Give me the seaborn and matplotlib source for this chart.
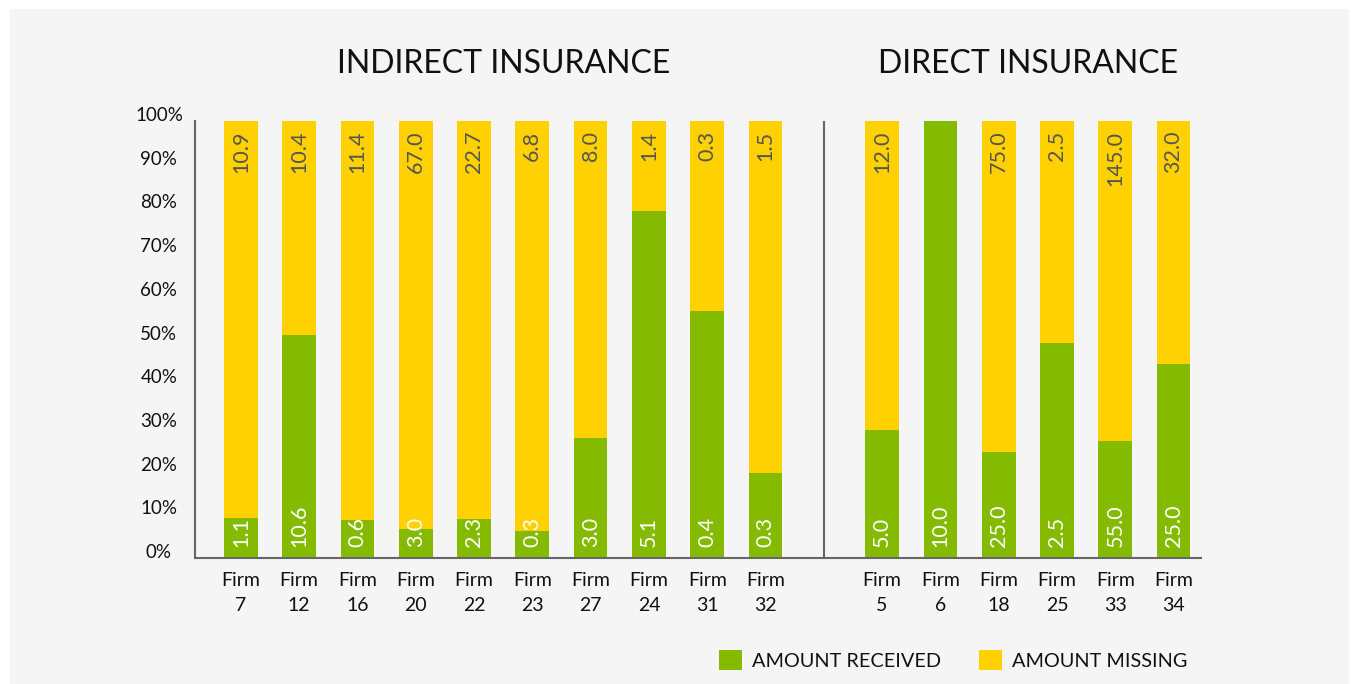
import matplotlib
matplotlib.use('Agg')
import matplotlib.pyplot as plt
import matplotlib.transforms as mtransforms
from matplotlib.patches import Patch, Rectangle
import seaborn as sns
import numpy as np
import pandas as pd

# indirect insurance firms
indirect_firms = ["7", "12", "16", "20", "22", "23", "27", "24", "31", "32"]
indirect_received = [1.1, 10.6, 0.6, 3.0, 2.3, 0.3, 3.0, 5.1, 0.4, 0.3]
indirect_missing = [10.9, 10.4, 11.4, 67.0, 22.7, 6.8, 8.0, 1.4, 0.3, 1.5]
indirect_share = [9.2, 51.0, 8.7, 6.7, 8.9, 6.2, 27.5, 79.4, 56.5, 19.5]  # % received

# direct insurance firms
direct_firms = ["5", "6", "18", "25", "33", "34"]
direct_received = [5.0, 10.0, 25.0, 2.5, 55.0, 25.0]
direct_missing = [12.0, 0.0, 75.0, 2.5, 145.0, 32.0]
direct_share = [29.4, 100.0, 24.3, 49.2, 26.8, 44.4]  # % received

GREEN = "#84bb00"
YELLOW = "#ffd100"
BG = "#f5f5f5"
AXC = "#666666"

sns.set_theme(style="white")
plt.rcParams['font.family'] = ['Lato', 'DejaVu Sans']

pos = list(range(len(indirect_firms))) + [len(indirect_firms) + 1 + i for i in range(len(direct_firms))]
df = pd.DataFrame({
    "pos": pos,
    "firm": indirect_firms + direct_firms,
    "received": indirect_received + direct_received,
    "missing": indirect_missing + direct_missing,
    "share": [s / 100 for s in indirect_share + direct_share],
})
df["total"] = 1.0

fig = plt.figure(figsize=(13.51, 6.84), dpi=100, facecolor="white")
fig.patches.append(Rectangle((10 / 1351, 0), 1339 / 1351, 675 / 684, transform=fig.transFigure,
                             facecolor=BG, edgecolor="none", zorder=-10))
ax = fig.add_axes([195 / 1351, 1 - 558 / 684, (1201 - 195) / 1351, (558 - 121) / 684])
ax.set_facecolor(BG)

sns.barplot(data=df, x="pos", y="total", native_scale=True, width=0.578, color=YELLOW,
            saturation=1, errorbar=None, linewidth=0, ax=ax)
sns.barplot(data=df, x="pos", y="share", native_scale=True, width=0.578, color=GREEN,
            saturation=1, errorbar=None, linewidth=0, ax=ax)

for _, r in df.iterrows():
    ax.annotate(f"{r['received']:.1f}", (r["pos"], 0), xytext=(0, 8), textcoords="offset points",
                rotation=90, ha="center", va="bottom", color="white", fontsize=15.5)
    if r["missing"] > 0:
        ax.annotate(f"{r['missing']:.1f}", (r["pos"], 1), xytext=(0, -7), textcoords="offset points",
                    rotation=90, ha="center", va="top", color="#555555", fontsize=15.5)

ax.axvline(len(indirect_firms), color=AXC, lw=1.5)

ax.set_xlim(-0.786, 16.47)
ax.set_ylim(0, 1)
ax.set_xticks(df["pos"], ["Firm\n" + f for f in df["firm"]], linespacing=1.55)
ax.set_yticks(np.arange(0, 1.01, 0.1), [f"{int(round(v * 100))}%" for v in np.arange(0, 1.01, 0.1)])
ax.tick_params(axis="x", length=0, pad=10, labelsize=14, labelcolor="#111111")
ax.tick_params(axis="y", length=6, width=1.5, color=AXC, pad=20, labelsize=13.5, labelcolor="#111111")
for t in ax.get_yticklabels():
    t.set_ha("center")
    t.set_va("baseline")
ax.set_xlabel("")
ax.set_ylabel("")

sns.despine(ax=ax)
for s in ["left", "bottom"]:
    ax.spines[s].set_color(AXC)
    ax.spines[s].set_linewidth(1.5)

tr = mtransforms.blended_transform_factory(ax.transData, fig.transFigure)
ax.text(np.mean(pos[:len(indirect_firms)]), 1 - 73 / 684, "INDIRECT INSURANCE", transform=tr,
        ha="center", va="baseline", fontsize=23, color="#111111")
ax.text(np.mean(pos[len(indirect_firms):]), 1 - 73 / 684, "DIRECT INSURANCE", transform=tr,
        ha="center", va="baseline", fontsize=23, color="#111111")

handles = [Patch(facecolor=GREEN, edgecolor="none", label="AMOUNT RECEIVED"),
           Patch(facecolor=YELLOW, edgecolor="none", label="AMOUNT MISSING")]
fig.legend(handles=handles, loc="center right", bbox_to_anchor=(1197 / 1351, 1 - 660 / 684), ncol=2,
           frameon=False, fontsize=14.3, handlelength=1.15, handleheight=1.15, handletextpad=0.5,
           columnspacing=1.9, borderpad=0, labelcolor="#111111")

fig.savefig("out.png", dpi=100, facecolor=fig.get_facecolor())
